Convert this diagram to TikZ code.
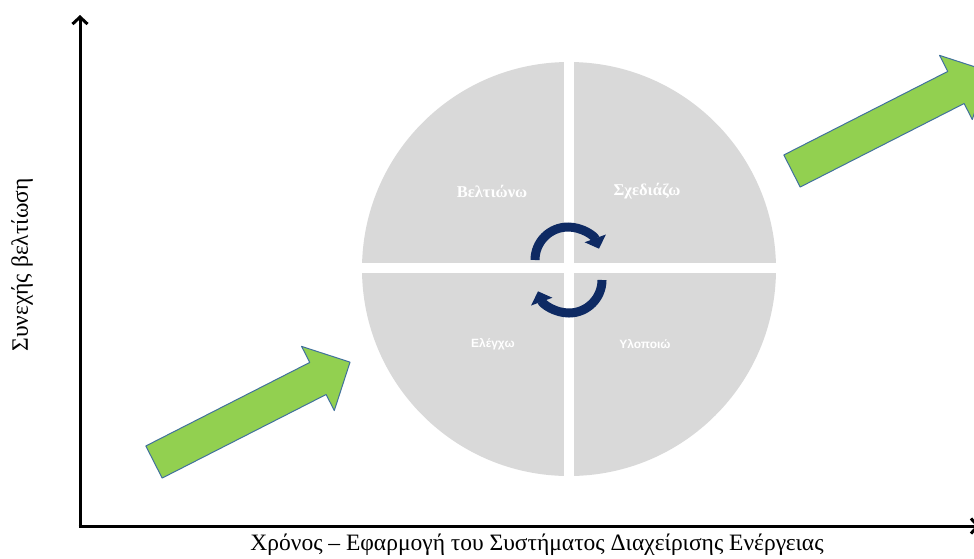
\documentclass[tikz,border=0pt]{standalone}
\usepackage{fontspec}
\setmainfont{Liberation Serif}
\setsansfont{Liberation Sans}
\usepackage{tikz}
\usetikzlibrary{arrows.meta}

\definecolor{ringgray}{HTML}{D9D9D9}
\definecolor{cyclenavy}{HTML}{0E2A63}
\definecolor{leafgreen}{HTML}{92D050}
\definecolor{arrowedge}{HTML}{41719C}

\tikzset{
  axis/.style={line width=3pt, -{Straight Barb[length=7pt,width=15pt,line width=3pt]}},
  growth/.style={fill=leafgreen, draw=arrowedge, line width=1pt, line join=round},
  cycle/.style={cyclenavy, line width=9pt, -{Triangle[length=11pt,width=22pt]}},
  phase/.style={text=white, font=\bfseries\fontsize{16.5}{19}\selectfont},
  phasesf/.style={text=white, font=\sffamily\bfseries\fontsize{12}{14}\selectfont}
}

\begin{document}
\begin{tikzpicture}[x=1pt, y=-1pt]
	%\draw [help lines, step=50] (0,0) grid (974,558);
	\clip (0,0) rectangle (974,558);
	\fill [white] (0,0) rectangle (974,558);

	% axes
	\coordinate (origin) at (80,526);
	\coordinate (ytop) at (80,15);
	\coordinate (xend) at (980,526);
	\draw [axis] (origin) ++(0,1.5) -- (ytop);
	\draw [axis] (origin) ++(-1.5,0) -- (xend);
	\node [rotate=90, font=\fontsize{23.5}{26}\selectfont] (ylabel) at (22,265) {Συνεχής βελτίωση};
	\node [font=\fontsize{23.5}{26}\selectfont] (xlabel) at (537,545) {Χρόνος – Εφαρμογή του Συστήματος Διαχείρισης Ενέργειας};

	% disc split in four
	\coordinate (hub) at (569,269);
	\fill [ringgray] (hub) circle (207);
	\draw [white, line width=10pt] (568.5,55) -- (568.5,483)
	                               (355,268) -- (784,268);

	\node [phase] (improve) at (492,191) {Βελτιώνω};
	\node [phase] (plan) at (647,191) {Σχεδιάζω};
	\node [phasesf] (check) at (493,344) {Ελέγχω};
	\node [phasesf] (doit) at (645,344) {Υλοποιώ};

	% turning arrows
	\draw [cycle] (535,260) arc [start angle=-180, end angle=-20, radius=33];
	\draw [cycle] (602,280) arc [start angle=0, end angle=160, radius=33];

	% green arrows
	\foreach \tx/\ty in {154/462, 792/171}
	  \draw [growth, shift={(\tx,\ty)}, rotate=27]
	    (0,-18) -- (184,-18) -- (184,-36) -- (220,0) -- (184,36) -- (184,18) -- (0,18) -- cycle;
\end{tikzpicture}
\end{document}
